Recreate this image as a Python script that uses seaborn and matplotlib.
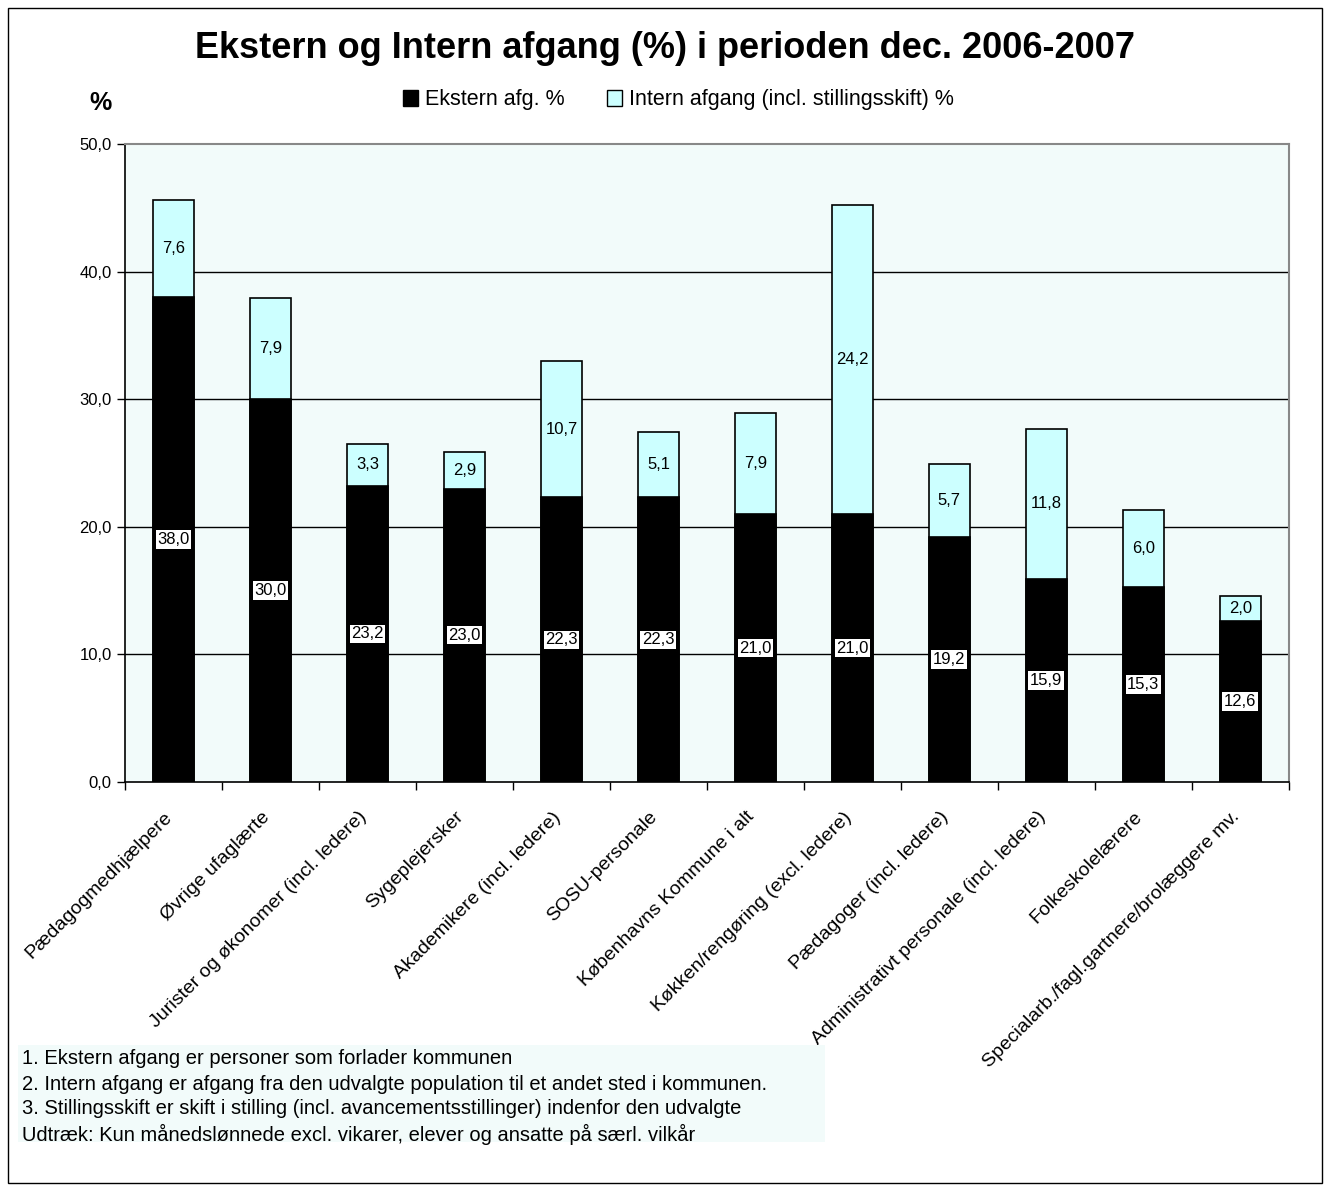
import pandas as pd
import seaborn as sns
import matplotlib.pyplot as plt
from matplotlib.patches import Rectangle
from matplotlib.ticker import FuncFormatter, FixedLocator

# Data
kategorier = ['Pædagogmedhjælpere', 'Øvrige ufaglærte', 'Jurister og økonomer (incl. ledere)',
              'Sygeplejersker', 'Akademikere (incl. ledere)', 'SOSU-personale',
              'Københavns Kommune i alt', 'Køkken/rengøring (excl. ledere)',
              'Pædagoger (incl. ledere)', 'Administrativt personale (incl. ledere)',
              'Folkeskolelærere', 'Specialarb./fagl.gartnere/brolæggere mv.']
ekstern = [38.0, 30.0, 23.2, 23.0, 22.3, 22.3, 21.0, 21.0, 19.2, 15.9, 15.3, 12.6]
intern = [7.6, 7.9, 3.3, 2.9, 10.7, 5.1, 7.9, 24.2, 5.7, 11.8, 6.0, 2.0]
noter = ['1. Ekstern afgang er personer som forlader kommunen',
         '2. Intern afgang er afgang fra den udvalgte population til et andet sted i kommunen.',
         '3. Stillingsskift er skift i stilling (incl. avancementsstillinger) indenfor den udvalgte',
         'Udtræk: Kun månedslønnede excl. vikarer, elever og ansatte på særl. vilkår']

df = pd.DataFrame({'kategori': kategorier, 'ekstern': ekstern, 'intern': intern})
df['total'] = df['ekstern'] + df['intern']

sns.set_theme(style='white')
plt.rcParams['font.family'] = ['Liberation Sans', 'DejaVu Sans']
plt.rcParams['text.color'] = 'black'
plt.rcParams['xtick.color'] = 'black'
plt.rcParams['ytick.color'] = 'black'

intern_farve = '#CCFFFF'
fig = plt.figure(figsize=(13.3, 11.91), dpi=100)
ax = fig.add_axes([0.094, 0.3434, 0.875, 0.5357])
ax.set_facecolor('#F2FBFA')

sns.barplot(data=df, x='kategori', y='total', color=intern_farve, width=0.42,
            edgecolor='black', linewidth=1.2, saturation=1, ax=ax, zorder=3)
sns.barplot(data=df, x='kategori', y='ekstern', color='black', width=0.42,
            edgecolor='black', linewidth=1.2, saturation=1, ax=ax, zorder=4)

fmt = lambda v: f'{v:.1f}'.replace('.', ',')

# labels
for i, (e, n) in enumerate(zip(ekstern, intern)):
    ax.text(i, e / 2, fmt(e), ha='center', va='center', fontsize=12, color='black', zorder=6,
            bbox=dict(boxstyle='square,pad=0.1', fc='white', ec='none'))
    ax.text(i, e + n / 2, fmt(n), ha='center', va='center', fontsize=12, color='black', zorder=6)

ax.set_ylim(0, 50)
ax.set_xlim(-0.5, len(kategorier) - 0.5)
ax.set_yticks([0, 10, 20, 30, 40, 50])
ax.yaxis.set_major_formatter(FuncFormatter(lambda v, p: fmt(v)))
for y in [10, 20, 30, 40]:
    ax.axhline(y, color='black', lw=1, zorder=1)

# labels sit a little left of the bar centre, ticks sit between categories
ax.set_xticks([i - 0.1 for i in range(len(kategorier))])
ax.set_xticklabels(kategorier, rotation=45, ha='right', rotation_mode='anchor', fontsize=14)
ax.xaxis.set_minor_locator(FixedLocator([i - 0.5 for i in range(len(kategorier) + 1)]))
ax.tick_params(axis='x', which='major', length=0, pad=19)
ax.tick_params(axis='x', which='minor', length=6, width=1, color='black', direction='out', bottom=True)
ax.tick_params(axis='y', length=6, width=1, color='black', direction='out', left=True, labelsize=12)
ax.set_xlabel('')
ax.set_ylabel('')

for s in ['left', 'bottom']:
    ax.spines[s].set_color('black')
    ax.spines[s].set_linewidth(1.2)
for s in ['top', 'right']:
    ax.spines[s].set_color('#888888')
    ax.spines[s].set_linewidth(1.5)

# title, legend and %
fig.text(0.5, 1 - 48 / 1191, 'Ekstern og Intern afgang (%) i perioden dec. 2006-2007',
         ha='center', va='center', fontsize=26, fontweight='bold')
fig.text(100 / 1330, 1 - 103 / 1191, '%', ha='center', va='center', fontsize=18, fontweight='bold')
h1 = Rectangle((0, 0), 1, 1, fc='black', ec='black')
h2 = Rectangle((0, 0), 1, 1, fc=intern_farve, ec='black')
fig.legend([h1, h2], ['Ekstern afg. %', 'Intern afgang (incl. stillingsskift) %'],
           loc='center', bbox_to_anchor=(0.51, 1 - 100 / 1191), ncol=2, frameon=False,
           fontsize=15.5, handlelength=0.7, handleheight=0.7, handletextpad=0.3, columnspacing=2.0)

# footnote box
fig.add_artist(Rectangle((18 / 1330, 1 - 1142 / 1191), 807 / 1330, 97 / 1191,
                         transform=fig.transFigure, fc='#F2FBFA', ec='none'))
for k, linje in enumerate(noter):
    fig.text(22 / 1330, 1 - (1059 + k * 25) / 1191, linje, ha='left', va='center', fontsize=14.5)

# figure border
fig.add_artist(Rectangle((8 / 1330, 8 / 1191), 1314 / 1330, 1175 / 1191,
                         transform=fig.transFigure, fc='none', ec='black', lw=1))

fig.savefig('out.png', dpi=100)
